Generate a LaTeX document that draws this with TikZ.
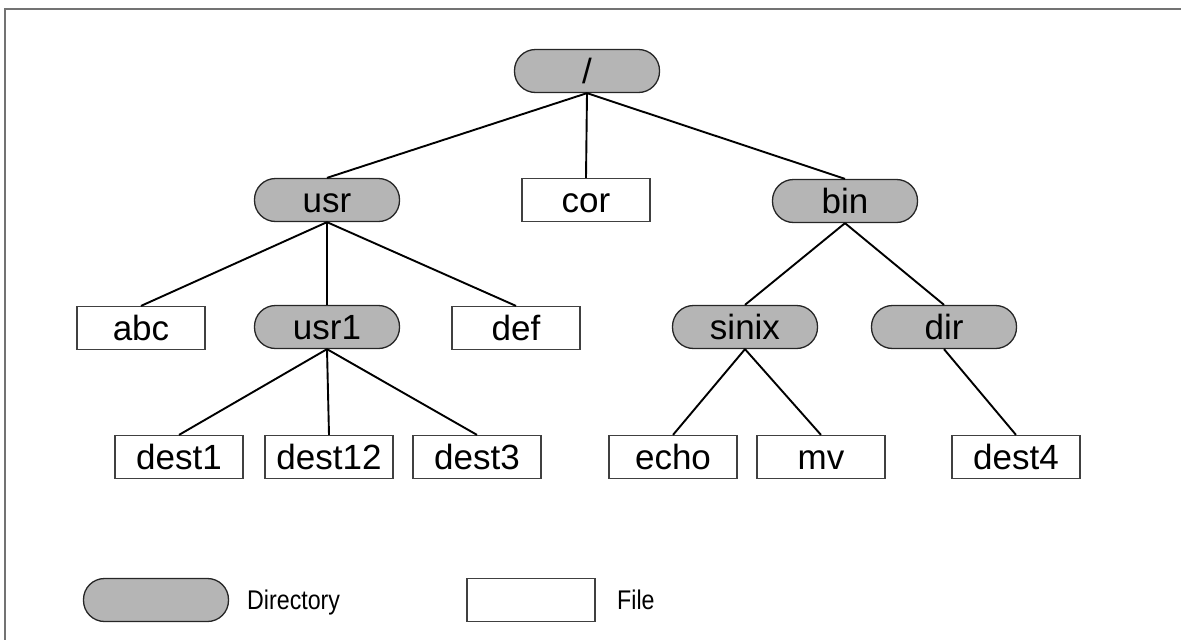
\documentclass[tikz,border=0pt]{standalone}
\usepackage{fontspec}
\usepackage{graphicx}
\setmainfont{Liberation Sans}
\begin{document}
\begin{tikzpicture}[x=1pt,y=-1pt,
  dirbox/.style={draw=black!85,line width=1.3pt,fill=black!29,rounded corners=21pt,minimum width=145pt,minimum height=43pt,inner sep=0pt,text height=25pt,text depth=0pt,font=\fontsize{35}{40}\selectfont},
  filebox/.style={draw=black!75,line width=1.2pt,fill=white,minimum width=128pt,minimum height=43pt,inner sep=0pt,text height=25pt,text depth=0pt,font=\fontsize{35}{40}\selectfont},
  edge/.style={line width=1.9pt,black},
  legtext/.style={anchor=west,inner sep=0pt,text height=19pt,text depth=0pt,font=\fontsize{27}{30}\selectfont}]
\useasboundingbox (0,0) rectangle (1181,640);
\draw[black!55,line width=2pt] (5,640) -- (5,9) -- (1181,9);
% nodes
\node[dirbox] (root) at (587,71) {/};
\node[dirbox] (usr) at (327,200) {usr};
\node[filebox] (cor) at (586,200) {cor};
\node[dirbox] (bin) at (845,201) {bin};
\node[filebox] (abc) at (141,328) {abc};
\node[dirbox] (usr1) at (327,327) {usr1};
\node[filebox] (def) at (516,328) {def};
\node[dirbox] (sinix) at (745,327) {sinix};
\node[dirbox] (dir) at (944,327) {dir};
\node[filebox] (dest1) at (179,457) {dest1};
\node[filebox] (dest12) at (329,457) {dest12};
\node[filebox] (dest3) at (477,457) {dest3};
\node[filebox] (echo) at (673,457) {echo};
\node[filebox] (mv) at (821,457) {mv};
\node[filebox] (dest4) at (1016,457) {dest4};
% edges
\draw[edge] (root.south) -- (usr.north);
\draw[edge] (root.south) -- (cor.north);
\draw[edge] (root.south) -- (bin.north);
\draw[edge] (usr.south) -- (abc.north);
\draw[edge] (usr.south) -- (usr1.north);
\draw[edge] (usr.south) -- (def.north);
\draw[edge] (usr1.south) -- (dest1.north);
\draw[edge] (usr1.south) -- (dest12.north);
\draw[edge] (usr1.south) -- (dest3.north);
\draw[edge] (bin.south) -- (sinix.north);
\draw[edge] (bin.south) -- (dir.north);
\draw[edge] (sinix.south) -- (echo.north);
\draw[edge] (sinix.south) -- (mv.north);
\draw[edge] (dir.south) -- (dest4.north);
% legend
\node[dirbox] (legdir) at (156,600) {};
\node[legtext] (legdirtext) at (247,600) {\scalebox{0.86}[1]{Directory}};
\node[filebox] (legfile) at (531,600) {};
\node[legtext] (legfiletext) at (617,600) {\scalebox{0.86}[1]{File}};
\end{tikzpicture}
\end{document}
